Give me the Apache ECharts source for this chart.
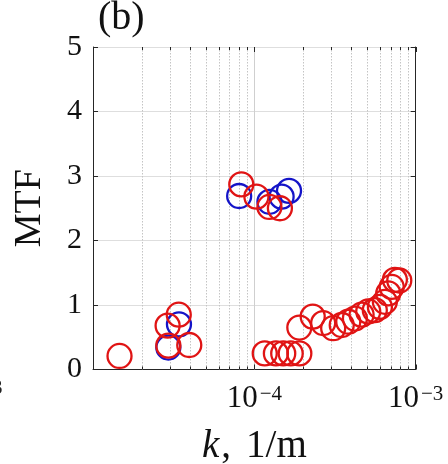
<!DOCTYPE html>
<html>
<head>
<meta charset="utf-8">
<script src="https://cdn.jsdelivr.net/npm/echarts@6/dist/echarts.min.js"></script>
<style>html,body{margin:0;padding:0;background:#fff}#c{width:448px;height:464px}</style>
</head>
<body>
<div id="c"></div>
<script>
// ---- data ----
const redK = [1.46e-5, 2.9e-5, 3.4e-5, 2.93e-5, 3.95e-5,
  8.3e-5, 1.03e-4, 1.24e-4, 1.44e-4,
  1.16e-4, 1.36e-4, 1.51e-4, 1.68e-4, 1.90e-4,
  1.9e-4, 2.30e-4, 2.67e-4, 3.08e-4, 3.48e-4, 3.82e-4, 4.20e-4, 4.62e-4, 5.08e-4,
  5.58e-4, 6.0e-4, 6.44e-4, 6.76e-4, 7.10e-4, 7.43e-4, 7.91e-4];
const redMTF = [0.21, 0.68, 0.85, 0.37, 0.38,
  2.87, 2.68, 2.52, 2.50,
  0.25, 0.25, 0.25, 0.25, 0.25,
  0.65, 0.82, 0.72, 0.64, 0.69, 0.74, 0.79, 0.85, 0.90,
  0.92, 0.97, 1.05, 1.18, 1.28, 1.39, 1.38];
const blueK = [3.41e-5, 2.93e-5, 8.05e-5, 1.24e-4, 1.475e-4, 1.64e-4];
const blueMTF = [0.70, 0.34, 2.69, 2.60, 2.68, 2.77];
const xMajorTicks = [1e-4, 1e-3];
const xMinorTicks = [2e-5, 3e-5, 4e-5, 5e-5, 6e-5, 7e-5, 8e-5, 9e-5,
  2e-4, 3e-4, 4e-4, 5e-4, 6e-4, 7e-4, 8e-4, 9e-4];
const yTicks = [0, 1, 2, 3, 4, 5];
const panelTag = '(b)';

const FONT = 'Liberation Serif';
const AX = '#262626';
const chart = echarts.init(document.getElementById('c'), null, {renderer: 'canvas'});

function pairs(xs, ys) { return xs.map((x, i) => [x, ys[i]]); }
function expLabel(v) {
  const e = Math.round(Math.log10(v));
  return '{b|10}{s|' + (e < 0 ? '\u2212' + (-e) : e) + '}';
}

// vertical grid line + inner ticks at bottom and top, positioned via the x scale
function tickRenderer(tickLen, gridStyle) {
  return function (params, api) {
    const cs = params.coordSys;
    const x = Math.round(api.coord([api.value(0), 0])[0]) + 0.5;
    const top = cs.y, bot = cs.y + cs.height;
    const children = [];
    if (x > cs.x + 1 && x < cs.x + cs.width - 1) {
      children.push({type: 'line', shape: {x1: x, y1: top, x2: x, y2: bot}, style: gridStyle, z2: 0});
    }
    children.push({type: 'line', shape: {x1: x, y1: bot, x2: x, y2: bot - tickLen}, style: {stroke: AX, lineWidth: 1}, z2: 1});
    children.push({type: 'line', shape: {x1: x, y1: top, x2: x, y2: top + tickLen}, style: {stroke: AX, lineWidth: 1}, z2: 1});
    return {type: 'group', children: children};
  };
}

const option = {
  animation: false,
  backgroundColor: '#fff',
  grid: {left: 93, right: 32.3, top: 47, bottom: 94.5, containLabel: false, outerBoundsMode: 'none'},
  graphic: [
    {type: 'text', left: 98, top: -2, style: {text: panelTag, font: '40px "' + FONT + '"', fill: '#111'}},
    {type: 'text', left: -8, top: 378, style: {text: '3', font: '21px "' + FONT + '"', fill: '#222'}}
  ],
  xAxis: {
    type: 'log', logBase: 10, min: 1e-5, max: 1e-3,
    position: 'bottom',
    axisLine: {show: true, lineStyle: {color: AX, width: 1}},
    axisTick: {show: false},
    splitLine: {show: false}, minorTick: {show: false},
    axisLabel: {show: true, margin: 14,
      formatter: (v) => (Math.abs(Math.log10(v) + 5) < 1e-6 ? '' : expLabel(v)),
      rich: {
        b: {fontFamily: FONT, fontSize: 31, color: '#111', verticalAlign: 'bottom'},
        s: {fontFamily: FONT, fontSize: 21, color: '#111', verticalAlign: 'bottom', padding: [0, 0, 10, 2]}
      }},
    name: '{i|k}{c|,}{n|1/m}', nameLocation: 'middle', nameGap: 58,
    nameTextStyle: {
      rich: {
        i: {fontFamily: FONT, fontSize: 39, fontStyle: 'italic', color: '#111'},
        c: {fontFamily: FONT, fontSize: 39, color: '#111', padding: [0, 15, 0, 2]},
        n: {fontFamily: FONT, fontSize: 39, color: '#111'}
      }}
  },
  yAxis: [
    {
      type: 'value', min: yTicks[0], max: yTicks[yTicks.length - 1], interval: 1, position: 'left',
      axisLine: {show: true, lineStyle: {color: AX}},
      axisTick: {show: true, inside: true, length: 5, lineStyle: {color: AX}},
      axisLabel: {fontFamily: FONT, fontSize: 30, color: '#111', margin: 11},
      splitLine: {show: true, lineStyle: {color: '#dedede', width: 1}},
      name: 'MTF', nameLocation: 'middle', nameGap: 44, nameRotate: 90,
      nameTextStyle: {fontFamily: FONT, fontSize: 38, color: '#111'}
    },
    {
      type: 'value', min: yTicks[0], max: yTicks[yTicks.length - 1], interval: 1, position: 'right',
      axisLine: {show: true, lineStyle: {color: AX}},
      axisTick: {show: true, inside: true, length: 5, lineStyle: {color: AX}},
      axisLabel: {show: false}, splitLine: {show: false}
    }
  ],
  series: [
    {
      type: 'custom', data: xMinorTicks.map(v => [v]), encode: {x: 0}, silent: true, z: 1,
      clip: false,
      renderItem: tickRenderer(3, {stroke: '#c4c4c4', lineWidth: 1, lineDash: [1.5, 1.5]})
    },
    {
      type: 'custom', data: xMajorTicks.map(v => [v]), encode: {x: 0}, silent: true, z: 1,
      clip: false,
      renderItem: tickRenderer(5, {stroke: '#cfcfcf', lineWidth: 1})
    },
    {
      type: 'scatter', data: pairs(blueK, blueMTF), z: 3,
      symbol: 'circle', symbolSize: 24,
      itemStyle: {color: 'rgba(0,0,0,0)', borderColor: '#1414c8', borderWidth: 2.3, opacity: 1}
    },
    {
      type: 'scatter', data: pairs(redK, redMTF), z: 4,
      symbol: 'circle', symbolSize: 24,
      itemStyle: {color: 'rgba(0,0,0,0)', borderColor: '#e01414', borderWidth: 2.3, opacity: 1}
    }
  ]
};
chart.setOption(option);
</script>
</body>
</html>
